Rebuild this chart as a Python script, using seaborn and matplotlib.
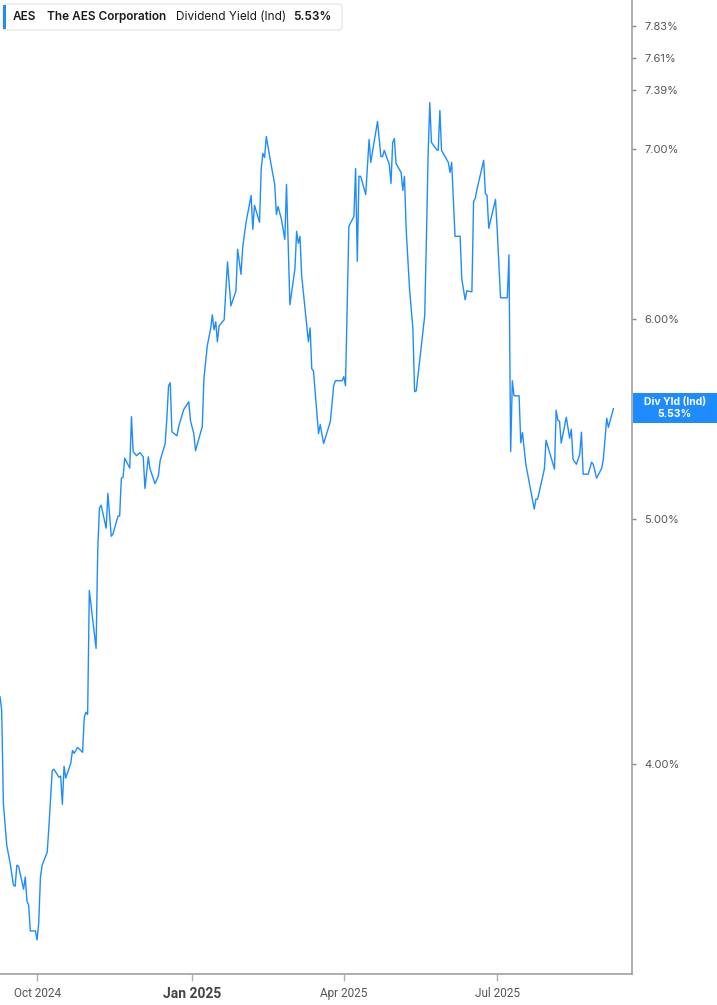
import pandas as pd
import matplotlib
matplotlib.use("Agg")
import matplotlib.pyplot as plt
import seaborn as sns
from matplotlib.patches import FancyBboxPatch, Rectangle
from matplotlib.ticker import FixedLocator, NullLocator

# Dividend yield (indicated) for AES, in percent
dates = [
    "2024-09-09", "2024-09-10", "2024-09-11", "2024-09-13", "2024-09-15", "2024-09-17",
    "2024-09-18", "2024-09-19", "2024-09-20", "2024-09-23", "2024-09-24", "2024-09-25",
    "2024-09-26", "2024-09-27", "2024-09-30", "2024-10-01", "2024-10-02", "2024-10-03",
    "2024-10-04", "2024-10-07", "2024-10-08", "2024-10-10", "2024-10-11", "2024-10-14",
    "2024-10-15", "2024-10-16", "2024-10-17", "2024-10-18", "2024-10-21", "2024-10-22",
    "2024-10-23", "2024-10-25", "2024-10-28", "2024-10-29", "2024-10-30", "2024-10-31",
    "2024-11-01", "2024-11-05", "2024-11-06", "2024-11-07", "2024-11-08", "2024-11-11",
    "2024-11-12", "2024-11-14", "2024-11-15", "2024-11-18", "2024-11-19", "2024-11-20",
    "2024-11-21", "2024-11-22", "2024-11-25", "2024-11-26", "2024-11-27", "2024-11-29",
    "2024-12-01", "2024-12-03", "2024-12-04", "2024-12-06", "2024-12-07", "2024-12-10",
    "2024-12-12", "2024-12-13", "2024-12-16", "2024-12-17", "2024-12-18", "2024-12-19",
    "2024-12-20", "2024-12-23", "2024-12-24", "2024-12-27", "2024-12-30", "2024-12-31",
    "2025-01-02", "2025-01-03", "2025-01-07", "2025-01-08", "2025-01-10", "2025-01-12",
    "2025-01-13", "2025-01-14", "2025-01-15", "2025-01-16", "2025-01-17", "2025-01-20",
    "2025-01-22", "2025-01-24", "2025-01-27", "2025-01-28", "2025-01-30", "2025-01-31",
    "2025-02-02", "2025-02-05", "2025-02-06", "2025-02-07", "2025-02-10", "2025-02-11",
    "2025-02-12", "2025-02-13", "2025-02-14", "2025-02-16", "2025-02-19", "2025-02-20",
    "2025-02-21", "2025-02-23", "2025-02-25", "2025-02-26", "2025-02-28", "2025-03-03",
    "2025-03-04", "2025-03-05", "2025-03-06", "2025-03-07", "2025-03-11", "2025-03-12",
    "2025-03-13", "2025-03-14", "2025-03-17", "2025-03-18", "2025-03-20", "2025-03-24",
    "2025-03-26", "2025-03-27", "2025-03-31", "2025-04-01", "2025-04-02", "2025-04-04",
    "2025-04-07", "2025-04-08", "2025-04-09", "2025-04-10", "2025-04-11", "2025-04-14",
    "2025-04-16", "2025-04-17", "2025-04-21", "2025-04-23", "2025-04-24", "2025-04-25",
    "2025-04-28", "2025-04-29", "2025-04-30", "2025-05-01", "2025-05-02", "2025-05-05",
    "2025-05-06", "2025-05-07", "2025-05-08", "2025-05-10", "2025-05-12", "2025-05-13",
    "2025-05-14", "2025-05-17", "2025-05-19", "2025-05-20", "2025-05-21", "2025-05-22",
    "2025-05-23", "2025-05-26", "2025-05-27", "2025-05-28", "2025-05-29", "2025-06-02",
    "2025-06-03", "2025-06-04", "2025-06-06", "2025-06-09", "2025-06-10", "2025-06-12",
    "2025-06-13", "2025-06-16", "2025-06-17", "2025-06-18", "2025-06-19", "2025-06-23",
    "2025-06-24", "2025-06-25", "2025-06-26", "2025-06-30", "2025-07-01", "2025-07-03",
    "2025-07-07", "2025-07-08", "2025-07-09", "2025-07-10", "2025-07-11", "2025-07-14",
    "2025-07-15", "2025-07-16", "2025-07-18", "2025-07-23", "2025-07-24", "2025-07-25",
    "2025-07-29", "2025-07-30", "2025-08-04", "2025-08-05", "2025-08-06", "2025-08-07",
    "2025-08-08", "2025-08-11", "2025-08-13", "2025-08-14", "2025-08-15", "2025-08-17",
    "2025-08-19", "2025-08-20", "2025-08-21", "2025-08-24", "2025-08-26", "2025-08-27",
    "2025-08-29", "2025-09-01", "2025-09-02", "2025-09-04", "2025-09-05", "2025-09-08",
]
yields = [
    4.255, 4.201, 3.860, 3.716, 3.656, 3.583, 3.580, 3.649, 3.646, 3.570, 3.610, 3.532,
    3.519, 3.437, 3.437, 3.409, 3.465, 3.610, 3.649, 3.692, 3.777, 3.978, 3.982, 3.953,
    3.957, 3.857, 3.993, 3.950, 4.004, 4.051, 4.040, 4.062, 4.044, 4.174, 4.194, 4.186,
    4.686, 4.445, 4.865, 5.050, 5.064, 4.959, 5.119, 4.923, 4.932, 5.014, 5.014, 5.190,
    5.194, 5.285, 5.238, 5.489, 5.317, 5.297, 5.312, 5.292, 5.141, 5.292, 5.235, 5.164,
    5.202, 5.273, 5.356, 5.479, 5.645, 5.661, 5.414, 5.394, 5.439, 5.524, 5.564, 5.469,
    5.405, 5.321, 5.439, 5.682, 5.855, 5.946, 6.022, 5.940, 5.984, 5.876, 5.962, 5.995,
    6.319, 6.071, 6.155, 6.392, 6.248, 6.404, 6.551, 6.713, 6.509, 6.653, 6.551, 6.880,
    6.975, 6.949, 7.083, 6.955, 6.781, 6.598, 6.646, 6.568, 6.450, 6.781, 6.077, 6.279,
    6.497, 6.427, 6.468, 6.239, 5.876, 5.951, 5.733, 5.722, 5.405, 5.449, 5.356, 5.464,
    5.645, 5.671, 5.671, 5.693, 5.645, 6.527, 6.586, 6.880, 6.322, 6.831, 6.831, 6.719,
    7.064, 6.918, 7.181, 6.955, 6.955, 6.994, 6.905, 6.787, 7.045, 7.070, 6.911, 6.855,
    6.744, 6.831, 6.509, 6.166, 5.946, 5.615, 5.620, 5.855, 6.016, 6.450, 6.955, 7.305,
    7.045, 7.000, 6.994, 7.253, 6.994, 6.918, 6.855, 6.918, 6.468, 6.468, 6.222, 6.105,
    6.155, 6.149, 6.677, 6.695, 6.750, 6.931, 6.725, 6.713, 6.515, 6.689, 6.509, 6.116,
    6.116, 6.360, 5.317, 5.671, 5.594, 5.594, 5.360, 5.410, 5.256, 5.046, 5.092, 5.092,
    5.233, 5.372, 5.233, 5.521, 5.471, 5.466, 5.358, 5.486, 5.382, 5.426, 5.280, 5.256,
    5.304, 5.412, 5.209, 5.209, 5.266, 5.256, 5.190, 5.237, 5.280, 5.481, 5.436, 5.530,
]

ytick_values = [4.00, 5.00, 6.00, 7.00, 7.39, 7.61, 7.83]
xtick_dates = ["2024-10-01", "2025-01-01", "2025-04-01", "2025-07-01"]
xtick_labels = ["Oct 2024", "Jan 2025", "Apr 2025", "Jul 2025"]

ticker = "AES"
company = "The AES Corporation"
metric = "Dividend Yield (Ind)"
last_label = "Div Yld (Ind)"

df = pd.DataFrame({"date": pd.to_datetime(dates), "yield": yields})
last_value = df["yield"].iloc[-1]

LINE_BLUE = "#1e8cff"
W, H = 717, 1005

sns.set_style("white")
plt.rcParams["font.family"] = ["Inter", "DejaVu Sans"]


def fx(px):
    return px / W


def fy(py):
    return 1 - py / H


fig = plt.figure(figsize=(W / 100, H / 100), dpi=100)
ax = fig.add_axes([0, fy(974), fx(632), 974 / H])

sns.lineplot(data=df, x="date", y="yield", ax=ax, color=LINE_BLUE,
             linewidth=1.0, estimator=None, sort=False)

ax.set_yscale("log")
ax.set_ylim(3.305, 8.02)
ax.set_xlim(pd.Timestamp("2024-09-09"), pd.Timestamp("2025-09-19"))

# y axis on the right with the odd fixed levels
ax.yaxis.tick_right()
ax.yaxis.set_major_locator(FixedLocator(ytick_values))
ax.yaxis.set_minor_locator(NullLocator())
ax.set_yticklabels([f"{v:.2f}%" for v in ytick_values])
ax.tick_params(axis="y", which="major", right=True, length=3, width=1,
               color="#888888", labelsize=8, labelcolor="#555555", pad=6)

ax.set_xticks(pd.to_datetime(xtick_dates))
ax.set_xticklabels(xtick_labels)
ax.tick_params(axis="x", bottom=True, length=5, width=1, color="#b0b0b0",
               labelsize=8, labelcolor="#555555", pad=4)
for lbl in ax.get_xticklabels():
    lbl.set_family(["Liberation Sans Narrow", "Roboto", "DejaVu Sans"])
    if lbl.get_text() == "Jan 2025":
        lbl.set_fontweight("bold")
        lbl.set_fontsize(10)
        lbl.set_color("#444444")
    else:
        lbl.set_fontsize(8.5)

ax.set_xlabel("")
ax.set_ylabel("")
for side in ["left", "top"]:
    ax.spines[side].set_visible(False)
for side in ["right", "bottom"]:
    ax.spines[side].set_color("#a0a0a0")
    ax.spines[side].set_linewidth(1.2)

# header box at top left
box = FancyBboxPatch((fx(3), fy(30)), fx(342) - fx(3), 26 / H,
                     boxstyle="round,pad=0,rounding_size=0.004",
                     transform=fig.transFigure, fc="white", ec="#e4e4e4", lw=0.8)
fig.add_artist(box)
fig.add_artist(Rectangle((fx(3), fy(29)), 3 / W, 24 / H, transform=fig.transFigure,
                         fc=LINE_BLUE, ec="none"))
hy = fy(17)
fig.text(fx(13), hy, ticker, fontsize=8.5, fontweight="semibold", color="#1a1a1a", va="center")
fig.text(fx(47), hy, company, fontsize=8.5, fontweight="semibold", color="#1a1a1a", va="center")
fig.text(fx(176), hy, metric, fontsize=8.5, color="#1a1a1a", va="center")
fig.text(fx(293), hy, f"{last_value:.2f}%", fontsize=8.5, fontweight="semibold",
         color="#1a1a1a", va="center")

# last value flag on the right axis
fig.add_artist(Rectangle((fx(633), fy(423)), (W - 633) / W, 30 / H,
                         transform=fig.transFigure, fc=LINE_BLUE, ec="none"))
fig.text(fx(675), fy(402), last_label, fontsize=7.5, fontweight="bold",
         color="white", ha="center", va="center")
fig.text(fx(675), fy(414), f"{last_value:.2f}%", fontsize=7.5, fontweight="bold",
         color="white", ha="center", va="center")

fig.savefig("out.png", dpi=100)
